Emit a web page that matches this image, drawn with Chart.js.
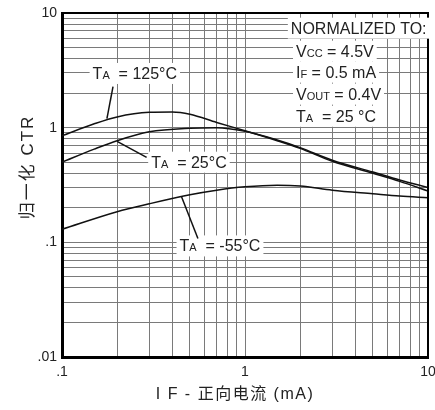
<!DOCTYPE html>
<html>
<head>
<meta charset="utf-8">
<script src="https://cdn.jsdelivr.net/npm/chart.js@4.4.1/dist/chart.umd.min.js"></script>
<style>
  html, body { margin: 0; padding: 0; background: #fff; }
  canvas { display: block; }
</style>
</head>
<body>
<canvas id="ctr-chart" width="435" height="410"></canvas>
<script>
// Normalized CTR vs forward current (log-log)
const ifTa125 = [0.1, 0.15, 0.2, 0.3, 0.4, 0.5, 0.7, 1, 1.5, 2, 3, 5, 7, 10];
const ctrTa125 = [0.85, 1.08, 1.24, 1.36, 1.37, 1.31, 1.11, 0.94, 0.77, 0.66, 0.51, 0.40, 0.34, 0.28];

const ifTa25 = [0.1, 0.15, 0.2, 0.3, 0.5, 0.7, 1, 1.5, 2, 3, 5, 7, 10];
const ctrTa25 = [0.5, 0.65, 0.77, 0.92, 0.99, 1.0, 0.93, 0.78, 0.67, 0.52, 0.41, 0.35, 0.30];

const ifTaM55 = [0.1, 0.2, 0.3, 0.5, 0.7, 1, 1.5, 2, 3, 5, 7, 10];
const ctrTaM55 = [0.13, 0.185, 0.217, 0.26, 0.285, 0.305, 0.315, 0.31, 0.285, 0.265, 0.253, 0.245];

// grid ticks (every 1..9 of each decade) and the labelled ones
const xTickValues = [0.1, 0.2, 0.3, 0.4, 0.5, 0.6, 0.7, 0.8, 0.9,
                     1, 2, 3, 4, 5, 6, 7, 8, 9, 10];
const yTickValues = [0.01, 0.02, 0.03, 0.04, 0.05, 0.06, 0.07, 0.08, 0.09,
                     0.1, 0.2, 0.3, 0.4, 0.5, 0.6, 0.7, 0.8, 0.9,
                     1, 2, 3, 4, 5, 6, 7, 8, 9, 10];
const xLabelValues = [0.1, 1, 10];
const xLabelTexts = ['.1', '1', '10'];
const yLabelValues = [0.01, 0.1, 1, 10];
const yLabelTexts = ['.01', '.1', '1', '10'];

const FONT = "'Liberation Sans', Arial, 'Noto Sans CJK SC', sans-serif";
const INK = '#222';

function labelFor(v, values, texts) {
    const i = values.findIndex(t => Math.abs(t - v) < t * 1e-6);
    return i >= 0 ? texts[i] : '';
}

function toPoints(xs, ys) {
    return xs.map((x, i) => ({x: x, y: ys[i]}));
}

// curve labels: text anchor and leader line, in data units
const curveNotes = [
    {parts: [['T', 16], ['A', 11], ['  = 125°C', 16]], at: [0.25, 3.0], from: [0.19, 2.28], to: [0.176, 1.2]},
    {parts: [['T', 16], ['A', 11], ['  = 25°C', 16]], at: [0.494, 0.505], from: [0.2, 0.76], to: [0.29, 0.55]},
    {parts: [['T', 16], ['A', 11], ['  = -55°C', 16]], at: [0.73, 0.094], from: [0.45, 0.25], to: [0.553, 0.108]}
];

// "normalized to" block, left aligned
const normNotes = [
    {parts: [['NORMALIZED TO:', 16]], at: [1.78, 7.45]},
    {parts: [['V', 16], ['CC', 11], [' = 4.5V', 16]], at: [1.9, 4.69]},
    {parts: [['I', 16], ['F', 11], [' = 0.5 mA', 16]], at: [1.9, 3.08]},
    {parts: [['V', 16], ['OUT', 11], [' = 0.4V', 16]], at: [1.9, 1.98]},
    {parts: [['T', 16], ['A', 11], ['  = 25 °C', 16]], at: [1.9, 1.27]}
];

function drawRich(ctx, parts, x, yMid, centered) {
    let w = 0;
    parts.forEach(p => {
        ctx.font = p[1] + 'px ' + FONT;
        w += ctx.measureText(p[0]).width;
    });
    let cx = centered ? x - w / 2 : x;
    ctx.fillStyle = '#fff';
    ctx.fillRect(cx - 3, yMid - 10, w + 6, 21);
    ctx.fillStyle = INK;
    ctx.textAlign = 'left';
    ctx.textBaseline = 'alphabetic';
    parts.forEach(p => {
        ctx.font = p[1] + 'px ' + FONT;
        ctx.fillText(p[0], cx, yMid + 6);
        cx += ctx.measureText(p[0]).width;
    });
}

const overlayPlugin = {
    id: 'overlay',
    afterDatasetsDraw(chart) {
        const ctx = chart.ctx;
        const a = chart.chartArea;
        const xs = chart.scales.x, ys = chart.scales.y;
        const px = v => xs.getPixelForValue(v);
        const py = v => ys.getPixelForValue(v);
        ctx.save();

        // top and right frame
        ctx.strokeStyle = '#000';
        ctx.lineWidth = 2;
        ctx.beginPath();
        ctx.moveTo(a.left, a.top);
        ctx.lineTo(a.right, a.top);
        ctx.lineTo(a.right, a.bottom);
        ctx.stroke();

        curveNotes.forEach(n => {
            drawRich(ctx, n.parts, px(n.at[0]), py(n.at[1]), true);
            ctx.strokeStyle = '#111';
            ctx.lineWidth = 1.5;
            ctx.beginPath();
            ctx.moveTo(px(n.from[0]), py(n.from[1]));
            ctx.lineTo(px(n.to[0]), py(n.to[1]));
            ctx.stroke();
        });
        normNotes.forEach(n => drawRich(ctx, n.parts, px(n.at[0]), py(n.at[1]), false));

        // axis titles
        ctx.fillStyle = INK;
        ctx.textAlign = 'center';
        ctx.textBaseline = 'middle';
        ctx.letterSpacing = '1.5px';
        ctx.font = '16px ' + FONT;
        ctx.fillText('I F - 正向电流 (mA)', 235, 395);
        ctx.letterSpacing = '2px';
        ctx.translate(28, 167);
        ctx.rotate(-Math.PI / 2);
        ctx.font = '17px ' + FONT;
        ctx.fillText('归一化 CTR', 0, 0);
        ctx.restore();
    }
};

const gridStyle = {color: '#7a7a7a', lineWidth: 1, drawTicks: false};

new Chart(document.getElementById('ctr-chart'), {
    type: 'scatter',
    data: {
        datasets: [
            {label: 'TA = 125°C', data: toPoints(ifTa125, ctrTa125)},
            {label: 'TA = 25°C', data: toPoints(ifTa25, ctrTa25)},
            {label: 'TA = -55°C', data: toPoints(ifTaM55, ctrTaM55)}
        ].map(d => Object.assign(d, {
            showLine: true,
            borderColor: '#111',
            borderWidth: 1.5,
            pointRadius: 0,
            cubicInterpolationMode: 'monotone'
        }))
    },
    options: {
        responsive: false,
        animation: false,
        layout: {padding: {left: 0, top: 13, right: 7, bottom: 0}},
        plugins: {legend: {display: false}, tooltip: {enabled: false}},
        scales: {
            x: {
                type: 'logarithmic',
                min: 0.1,
                max: 10,
                afterBuildTicks: s => { s.ticks = xTickValues.map(v => ({value: v})); },
                afterFit: s => { s.height = 53; s.paddingLeft = 0; s.paddingRight = 0; },
                grid: gridStyle,
                border: {color: '#000', width: 3},
                ticks: {
                    autoSkip: false, maxRotation: 0, padding: 7, color: INK,
                    font: {size: 14, family: FONT},
                    callback: v => labelFor(v, xLabelValues, xLabelTexts)
                }
            },
            y: {
                type: 'logarithmic',
                min: 0.01,
                max: 10,
                afterBuildTicks: s => { s.ticks = yTickValues.map(v => ({value: v})); },
                afterFit: s => { s.width = 62; s.paddingTop = 0; s.paddingBottom = 0; },
                grid: gridStyle,
                border: {color: '#000', width: 3},
                ticks: {
                    autoSkip: false, padding: 5, color: INK,
                    font: {size: 14, family: FONT},
                    callback: v => labelFor(v, yLabelValues, yLabelTexts)
                }
            }
        }
    },
    plugins: [overlayPlugin]
});
</script>
</body>
</html>
